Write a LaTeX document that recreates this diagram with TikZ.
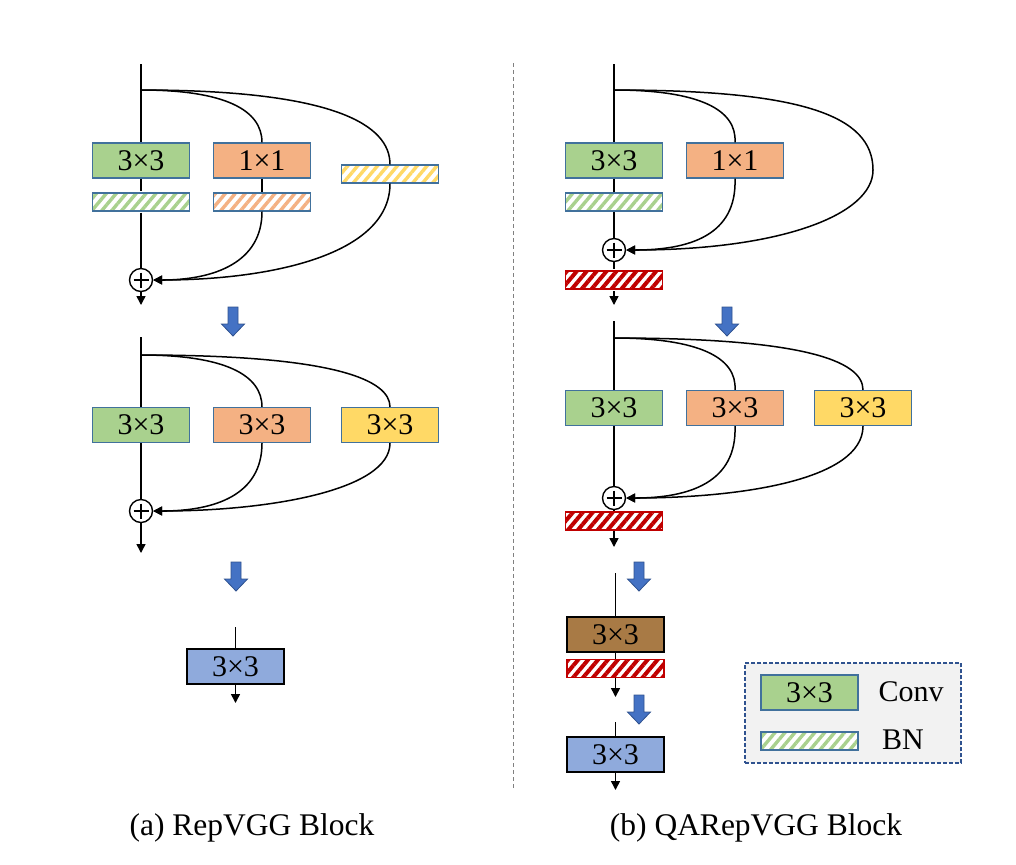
\documentclass[tikz,border=0pt]{standalone}
\usepackage{fontspec}
\setmainfont{Liberation Serif}
\usepackage{tikz}
\usetikzlibrary{arrows.meta,patterns.meta}

\definecolor{convgreen}{HTML}{A9D18E}
\definecolor{convorange}{HTML}{F4B183}
\definecolor{convyellow}{HTML}{FFD966}
\definecolor{convblue}{HTML}{8FAADC}
\definecolor{convbrown}{HTML}{A87A45}
\definecolor{bnred}{HTML}{C00000}
\definecolor{boxline}{HTML}{41719C}
\definecolor{arrowblue}{HTML}{4472C4}
\definecolor{arrowline}{HTML}{2F528F}
\definecolor{legendgray}{HTML}{F2F2F2}

\begin{document}
\begin{tikzpicture}[x=0.5pt, y=-0.5pt, line width=0.75pt,
                    every node/.style={font=\fontsize{15pt}{18pt}\selectfont},
                    conv/.style={rectangle, draw=boxline, line width=0.6pt, minimum width=48.5pt, minimum height=17.5pt, inner sep=0pt},
                    bn/.style={rectangle, draw=boxline, line width=0.6pt, minimum width=48.5pt, minimum height=9pt, inner sep=0pt,
                               preaction={fill=white}, pattern={Lines[angle=50, distance=3.8pt, line width=1.7pt]}, pattern color=#1},
                    bnq/.style={bn=bnred, draw=bnred, pattern={Lines[angle=50, distance=3.8pt, line width=2pt]}},
                    sumnode/.style={circle, draw, line width=0.7pt, minimum size=11.5pt, inner sep=0pt,
                                    path picture={\draw[line width=0.9pt, shift={(path picture bounding box.center)}] (-7.5,0) -- (7.5,0) (0,-7.5) -- (0,7.5);}},
                    arrow/.style={-{Triangle[length=4.5pt, width=4.5pt]}},
                    bigarrow/.style={fill=arrowblue, draw=arrowline, line width=0.4pt}]

\useasboundingbox (0,0) rectangle (1016,864);

% (a) RepVGG block
% Training form
\coordinate (a1in) at (141,64);
\coordinate (a1br) at (141,90);
\node[conv, fill=convgreen] (a1c) at (141,160.5) {3×3};
\node[bn=convgreen] (a1cb) at (141,202) {};
\node[conv, fill=convorange] (a1o) at (262,160.5) {1×1};
\node[bn=convorange] (a1ob) at (262,202) {};
\node[bn=convyellow] (a1yb) at (390,174) {};
\node[sumnode] (a1s) at (141,280) {};
\coordinate (a1out) at (141,305);
\draw (a1in) -- (a1c);
\draw (a1c) -- (a1cb);
\draw (a1cb) -- (a1s);
\draw[arrow] (a1s) -- (a1out);
\draw (a1br) .. controls (225,90) and (262,110) .. (a1o.north);
\draw (a1br) .. controls (335,90) and (390,125) .. (a1yb.north);
\draw (a1o) -- (a1ob);
\draw[arrow] (a1ob.south) .. controls (262,262) and (215,280) .. (a1s.east);
\draw[arrow] (a1yb.south) .. controls (390,255) and (270,280) .. (a1s.east);

% BN folded into the convs
\coordinate (a2in) at (141,337);
\coordinate (a2br) at (141,355);
\node[conv, fill=convgreen] (a2c) at (141,425) {3×3};
\node[conv, fill=convorange] (a2o) at (262,425) {3×3};
\node[conv, fill=convyellow] (a2y) at (390,425) {3×3};
\node[sumnode] (a2s) at (141,511) {};
\coordinate (a2out) at (141,553);
\draw (a2in) -- (a2c);
\draw (a2c) -- (a2s);
\draw[arrow] (a2s) -- (a2out);
\draw (a2br) .. controls (225,355) and (262,375) .. (a2o.north);
\draw (a2br) .. controls (335,355) and (390,380) .. (a2y.north);
\draw[arrow] (a2o.south) .. controls (262,495) and (215,511) .. (a2s.east);
\draw[arrow] (a2y.south) .. controls (390,490) and (270,511) .. (a2s.east);

% Deploy form
\coordinate (a3in) at (235.5,627);
\node[conv, fill=convblue, draw=black] (a3c) at (235.5,666.5) {3×3};
\coordinate (a3out) at (235.5,703);
\draw (a3in) -- (a3c);
\draw[arrow] (a3c) -- (a3out);

% (b) QARepVGG block
% Training form
\coordinate (b1in) at (614,64);
\coordinate (b1br) at (614,90);
\node[conv, fill=convgreen] (b1c) at (614,160.5) {3×3};
\node[bn=convgreen] (b1cb) at (614,202) {};
\node[conv, fill=convorange] (b1o) at (735,160.5) {1×1};
\node[sumnode] (b1s) at (614,250) {};
\node[bnq] (b1q) at (614,280) {};
\coordinate (b1out) at (614,305);
\draw (b1in) -- (b1c);
\draw (b1c) -- (b1cb);
\draw (b1cb) -- (b1s);
\draw (b1s) -- (b1q);
\draw[arrow] (b1q) -- (b1out);
\draw (b1br) .. controls (700,90) and (737,110) .. (b1o.north);
\draw[arrow] (b1o.south) .. controls (737,235) and (690,250) .. (b1s.east);
\draw[arrow] (b1br) .. controls (800,90) and (873,115) .. (873,170) .. controls (873,215) and (780,250) .. (b1s.east); % identity

% Convs merged
\coordinate (b2in) at (614,321);
\coordinate (b2br) at (614,338);
\node[conv, fill=convgreen] (b2c) at (614,408) {3×3};
\node[conv, fill=convorange] (b2o) at (735,408) {3×3};
\node[conv, fill=convyellow] (b2y) at (863,408) {3×3};
\node[sumnode] (b2s) at (614,498) {};
\node[bnq] (b2q) at (614,521) {};
\coordinate (b2out) at (614,547);
\draw (b2in) -- (b2c);
\draw (b2c) -- (b2s);
\draw (b2s) -- (b2q);
\draw[arrow] (b2q) -- (b2out);
\draw (b2br) .. controls (700,338) and (737,358) .. (b2o.north);
\draw (b2br) .. controls (800,338) and (863,360) .. (b2y.north);
\draw[arrow] (b2o.south) .. controls (737,482) and (690,498) .. (b2s.east);
\draw[arrow] (b2y.south) .. controls (863,480) and (740,498) .. (b2s.east);

% Single conv + BN
\coordinate (b3in) at (615.5,573);
\node[conv, fill=convbrown, draw=black] (b3c) at (615.5,634.5) {3×3};
\node[bnq] (b3q) at (615.5,668.5) {};
\coordinate (b3out) at (615.5,697);
\draw (b3in) -- (b3c);
\draw (b3c) -- (b3q);
\draw[arrow] (b3q) -- (b3out);

% Deploy form
\coordinate (b4in) at (615.5,722);
\node[conv, fill=convblue, draw=black] (b4c) at (615.5,754.5) {3×3};
\coordinate (b4out) at (615.5,790);
\draw (b4in) -- (b4c);
\draw[arrow] (b4c) -- (b4out);

% Blue transform arrows
\foreach \x/\y in {233/307, 727/307, 236/562, 639/562, 639/695} {
    \draw[bigarrow] (\x,\y) ++(-5,0) -- ++(10,0) -- ++(0,17) -- ++(6.5,0) -- ++(-11.5,12) -- ++(-11.5,-12) -- ++(6.5,0) -- cycle;
}

% Legend
\node[draw=arrowline, dash pattern=on 2pt off 1pt, line width=0.6pt, fill=legendgray, minimum width=108pt, minimum height=50pt, inner sep=0pt] (legend) at (853,713) {};
\node[conv, fill=convgreen] (lc) at (809.5,692.5) {3×3};
\node[bn=convgreen] (lb) at (809.5,741) {};
\node (lct) at (911,692) {Conv};
\node (lbt) at (903,740) {BN};

% Separator
\coordinate (septop) at (513,63);
\coordinate (sepbot) at (513,790);
\draw[gray, dash pattern=on 2pt off 1.5pt, line width=0.5pt] (septop) -- (sepbot);

% Captions
\node[anchor=base, font=\fontsize{15.75pt}{19pt}\selectfont] (capa) at (252,835) {(a) RepVGG Block};
\node[anchor=base, font=\fontsize{15.75pt}{19pt}\selectfont] (capb) at (756,835) {(b) QARepVGG Block};

\end{tikzpicture}
\end{document}
